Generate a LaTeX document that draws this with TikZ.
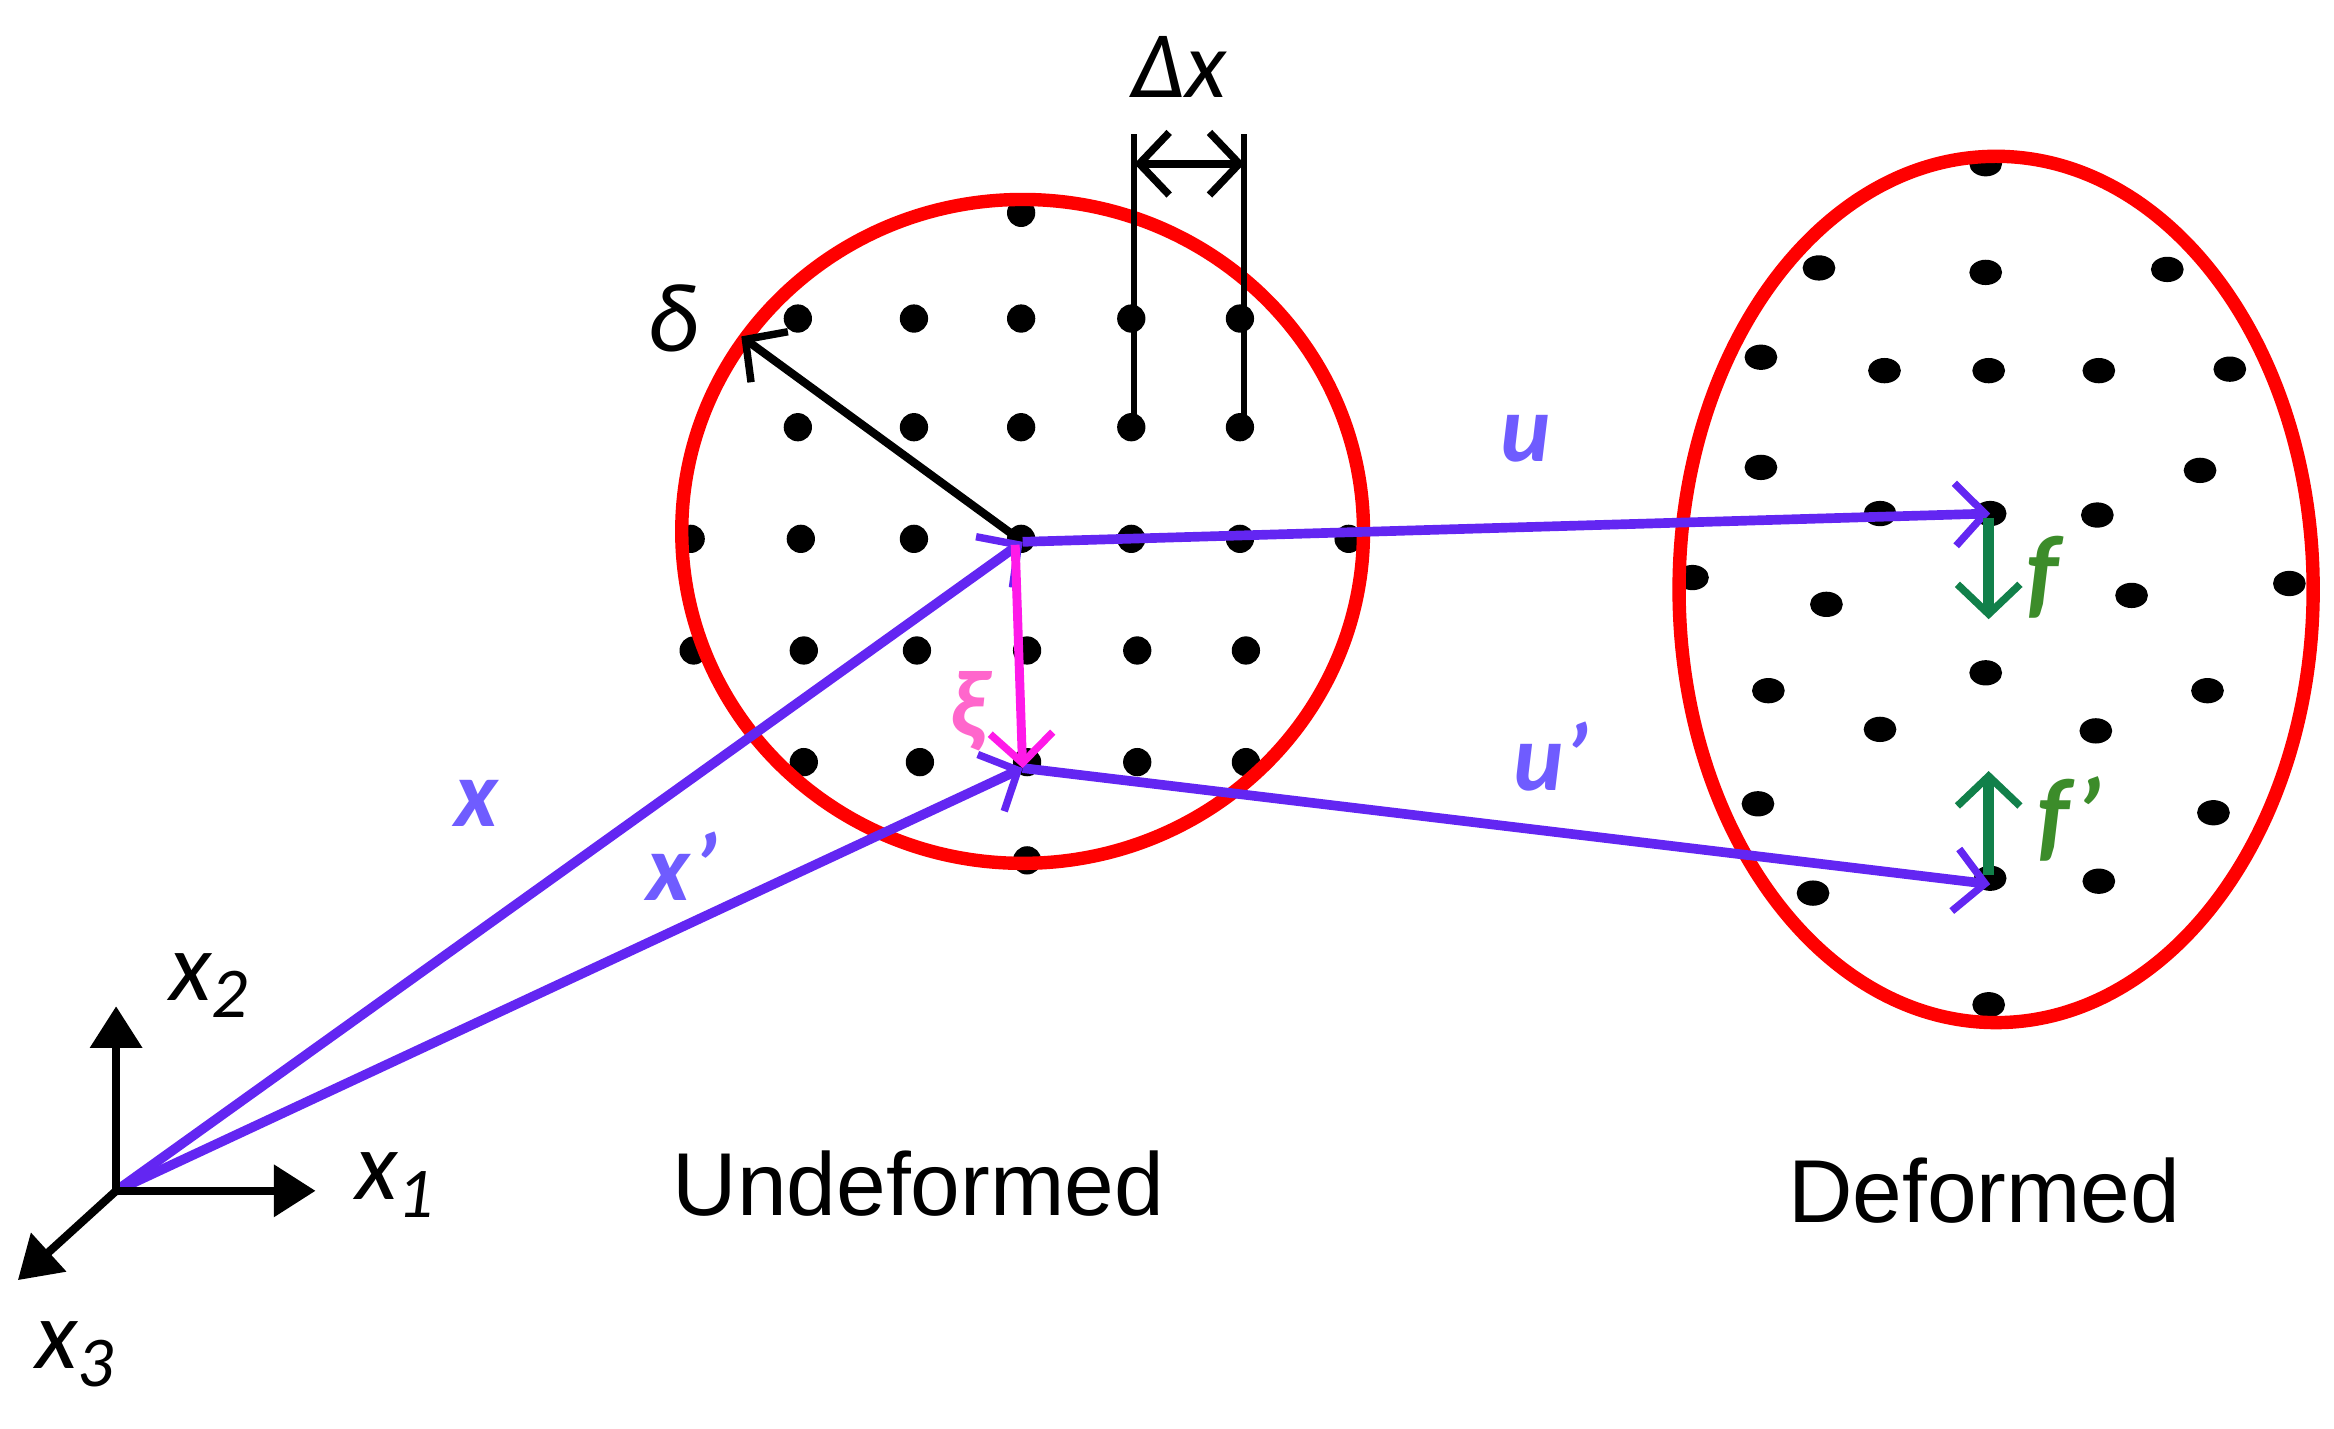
\documentclass[tikz,border=0pt]{standalone}
\usepackage{fontspec}
\setmainfont{Carlito}
\newfontfamily\lab{Liberation Sans}
\usetikzlibrary{arrows.meta,shapes.geometric}
\definecolor{vio}{HTML}{6326F2}
\definecolor{viol}{HTML}{6F5CFF}
\definecolor{gr}{HTML}{11804A}
\definecolor{grl}{HTML}{3C8C2A}
\definecolor{mag}{HTML}{FF1AE8}
\definecolor{magl}{HTML}{FF66CC}
\begin{document}
\begin{tikzpicture}[x=1pt,y=-1pt,
  tip/.style={-{Straight Barb[length=20pt,width=42pt,line width=5pt]}},
  dtip/.style={{Straight Barb[length=20pt,width=42pt,line width=5pt]}-{Straight Barb[length=20pt,width=42pt,line width=5pt]}},
  vec/.style={vio,line width=6.5pt,tip},
  dot/.style={circle,fill=black,inner sep=0pt,minimum size=19pt},
  edot/.style={ellipse,fill=black,inner sep=0pt,minimum width=22pt,minimum height=17pt},
  blab/.style={viol,font=\fontsize{64}{64}\selectfont\itshape\bfseries},
  txt/.style={font=\lab\fontsize{60}{60}\selectfont}]
\useasboundingbox (0,0) rectangle (1568,960);
% dots undeformed
\foreach \p in {(686,143),(536,214),(614,214),(686,214),(760,214),(833,214),
 (536,287),(614,287),(686,287),(760,287),(833,287),
 (464,362),(538,362),(614,362),(686,362),(760,362),(833,362),(906,362),
 (466,437),(540,437),(616,437),(690,437),(764,437),(837,437),
 (540,512),(618,512),(690,512),(764,512),(837,512),(690,578)}
 \node[dot] at \p {};
% dots deformed
\foreach \p in {(1334,110),(1222,180),(1334,183),(1456,181),(1183,240),(1266,249),(1336,249),(1410,249),(1498,248),(1183,314),(1478,316),(1263,345),(1409,346),(1337,345),(1137,388),(1227,406),(1432,400),(1538,392),(1334,452),(1188,464),(1263,490),(1408,491),(1483,464),(1181,540),(1487,546),(1218,600),(1410,592),(1337,590),(1336,675)}
 \node[edot] at \p {};
% circles
\draw[red,line width=9pt] (687,357) ellipse [x radius=229,y radius=223];
\draw[red,line width=9pt] (1341,396) ellipse [x radius=213,y radius=291];
% named points
\coordinate (O) at (78,800);
\coordinate (A) at (687,364);
\coordinate (B) at (687,516);
\coordinate (C) at (1337,345);
\coordinate (D) at (1337,594);
% black
\draw[line width=5.5pt,tip] (A) -- (498,226);
\node[font=\fontsize{66}{66}\selectfont\itshape] at (452,214) {δ};
\draw[line width=4pt] (762,287) -- (762,90);
\draw[line width=4pt] (836,287) -- (836,90);
\draw[line width=5.5pt,dtip] (762,110) -- (836,110);
\node[font=\fontsize{64}{64}\selectfont\itshape] at (792,45) {Δx};
% vectors
\draw[vec] (O) -- (A);
\draw[vec] (O) -- (B);
\draw[vec] (A) -- (C);
\draw[vec] (B) -- (D);
\draw[mag,line width=6pt,tip] (682,366) -- (B);
\node[blab] at (320,540) {x};
\node[blab] at (458,582) {x’};
\node[blab] at (1025,295) {u};
\node[blab] at (1042,508) {u’};
\node[magl,font=\fontsize{64}{64}\selectfont\itshape\bfseries] at (650,478) {ξ};
% green
\draw[gr,line width=7pt,tip] (1336,348) -- (1336,416);
\draw[gr,line width=7pt,tip] (1336,588) -- (1336,518);
\node[grl,font=\fontsize{68}{68}\selectfont\itshape\bfseries] at (1372,388) {f};
\node[grl,font=\fontsize{68}{68}\selectfont\itshape\bfseries] at (1390,550) {f’};
% axes
\draw[line width=5.5pt,-{Triangle[length=28pt,width=34pt]}] (O) -- (78,676);
\draw[line width=5.5pt,-{Triangle[length=28pt,width=34pt]}] (O) -- (212,800);
\draw[line width=5.5pt,-{Triangle[length=28pt,width=34pt]}] (O) -- (12,860);
\node[font=\fontsize{66}{66}\selectfont\itshape] at (140,662) {x\raisebox{-0.18em}{\fontsize{48}{48}\selectfont 2}};
\node[font=\fontsize{66}{66}\selectfont\itshape] at (265,796) {x\raisebox{-0.18em}{\fontsize{48}{48}\selectfont 1}};
\node[font=\fontsize{66}{66}\selectfont\itshape] at (50,910) {x\raisebox{-0.18em}{\fontsize{48}{48}\selectfont 3}};
% titles
\node[txt] at (617,795) {Undeformed};
\node[txt] at (1333,800) {Deformed};
\end{tikzpicture}
\end{document}
